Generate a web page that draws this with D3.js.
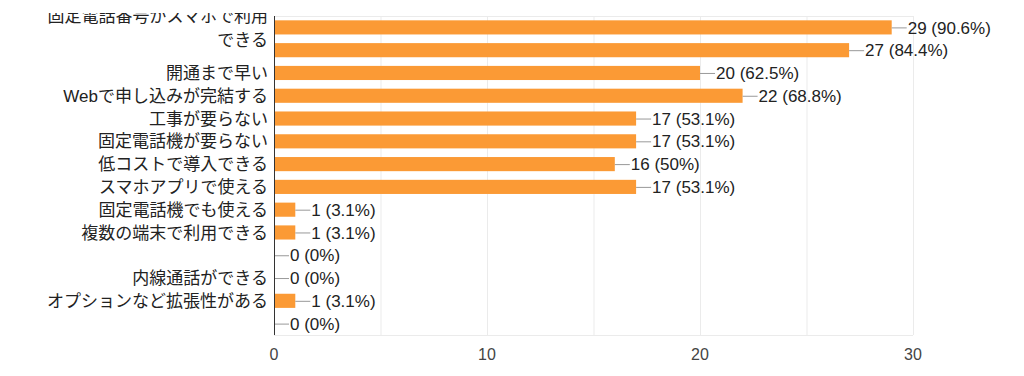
<!DOCTYPE html>
<html>
<head>
<meta charset="utf-8">
<script src="https://cdn.jsdelivr.net/npm/d3@7"></script>
<style>
  body { margin: 0; background: #fff; }
  text { font-family: "Liberation Sans", Arial, "Noto Sans CJK JP", sans-serif; }
</style>
</head>
<body>
<div id="chart"></div>
<script>
// data
var categories = [
    "固定電話番号がスマホで利用できる",
    "",
    "開通まで早い",
    "Webで申し込みが完結する",
    "工事が要らない",
    "固定電話機が要らない",
    "低コストで導入できる",
    "スマホアプリで使える",
    "固定電話機でも使える",
    "複数の端末で利用できる",
    "",
    "内線通話ができる",
    "オプションなど拡張性がある",
    ""
];
var counts = [29, 27, 20, 22, 17, 17, 16, 17, 1, 1, 0, 0, 1, 0];
var percents = ["90.6%", "84.4%", "62.5%", "68.8%", "53.1%", "53.1%", "50%", "53.1%", "3.1%", "3.1%", "0%", "0%", "3.1%", "0%"];
var ticks = [0, 10, 20, 30];

var width = 1024;
var height = 376;
var margin = { left: 274, right: 111, top: 16, bottom: 41 };
var w = width - margin.left - margin.right;
var h = height - margin.top - margin.bottom;

var svg = d3.select('#chart')
    .append('svg')
    .attr('width', width)
    .attr('height', height);

// top of the picture is cut off in the source
svg.append('clipPath').attr('id', 'cut')
    .append('rect')
    .attr('x', 0).attr('y', 13)
    .attr('width', width).attr('height', height);

var rows = categories.map(function (c, i) {
    return { name: c, n: counts[i], pct: percents[i], i: i };
});

var x = d3.scaleLinear().domain([0, 30]).range([0, w]);
var y = d3.scaleBand().domain(d3.range(rows.length)).range([0, h]).paddingInner(0.38).paddingOuter(0.19);

var root = svg.append('g').attr('clip-path', 'url(#cut)');
var g = root.append('g')
    .attr("transform", "translate(" + margin.left + "," + margin.top + ")");

// grid
g.selectAll('line.grid')
    .data(d3.range(5, 31, 5))
    .enter()
    .append('line')
    .attr('x1', d => x(d) + 0.5).attr('x2', d => x(d) + 0.5)
    .attr('y1', 0).attr('y2', h)
    .attr('stroke', '#ebebeb');
g.selectAll('line.hgrid')
    .data([0, h])
    .enter()
    .append('line')
    .attr('x1', 0).attr('x2', w)
    .attr('y1', d => d + 0.5).attr('y2', d => d + 0.5)
    .attr('stroke', '#ebebeb');

// bars
g.selectAll('rect')
    .data(rows)
    .enter()
    .append('rect')
    .attr('x', 0)
    .attr('y', d => y(d.i))
    .attr('width', d => x(d.n))
    .attr('height', y.bandwidth())
    .attr('fill', '#fb9a35');

// leader lines + value labels
var cy = d => y(d.i) + y.bandwidth() / 2;
g.selectAll('line.lead')
    .data(rows)
    .enter()
    .append('line')
    .attr('x1', d => x(d.n)).attr('x2', d => x(d.n) + 15)
    .attr('y1', d => cy(d) + 0.5).attr('y2', d => cy(d) + 0.5)
    .attr('stroke', '#999');
g.selectAll('text.val')
    .data(rows)
    .enter()
    .append('text')
    .attr('x', d => x(d.n) + 16)
    .attr('y', d => cy(d))
    .attr('dy', '0.36em')
    .attr('font-size', 17)
    .attr('fill', '#222')
    .text(d => d.n + " (" + d.pct + ")");

// category labels, wrapped
var labels = g.selectAll('text.cat')
    .data(rows)
    .enter()
    .append('text')
    .attr('text-anchor', 'end')
    .attr('font-size', 17)
    .attr('fill', '#222');
labels.each(function (d) {
    var t = d3.select(this);
    var chars = Array.from(d.name);
    var lines = [];
    var cur = "";
    var probe = t.append('tspan');
    chars.forEach(function (ch) {
        probe.text(cur + ch);
        if (probe.node().getComputedTextLength() > 228 && cur) {
            lines.push(cur);
            cur = ch;
        } else {
            cur += ch;
        }
    });
    if (cur) lines.push(cur);
    probe.remove();
    var lh = 24;
    var y0 = cy(d) - (lines.length - 1) * lh / 2;
    lines.forEach(function (ln, k) {
        t.append('tspan')
            .attr('x', -6)
            .attr('y', y0 + k * lh)
            .attr('dy', '0.36em')
            .text(ln);
    });
});

// axis line
g.append('line')
    .attr('x1', 0.5).attr('x2', 0.5)
    .attr('y1', 0).attr('y2', h)
    .attr('stroke', '#333');

// x tick labels
g.selectAll('text.tick')
    .data(ticks)
    .enter()
    .append('text')
    .attr('x', d => x(d))
    .attr('y', h + 19)
    .attr('dy', '0.36em')
    .attr('text-anchor', 'middle')
    .attr('font-size', 16)
    .attr('fill', '#444')
    .text(d => d);
</script>
</body>
</html>
